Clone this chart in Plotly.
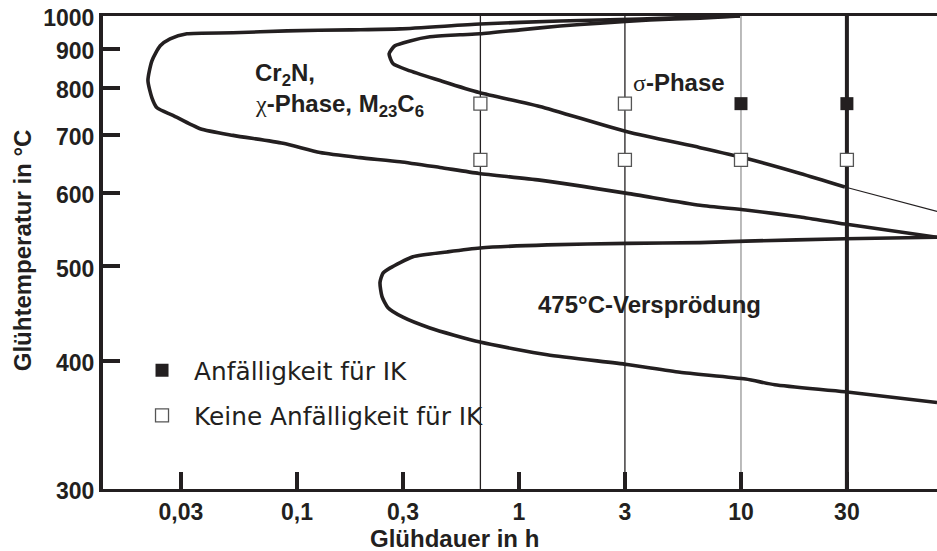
import math
import plotly.graph_objects as go

# ---------------- data ----------------
# Glühdauer in h / Glühtemperatur in °C
# Cr2N, chi-Phase, M23C6 : upper branch (right -> nose) then lower branch (nose -> right)
cr2n_t = [9.90, 6.54, 3.51, 1.53, 0.667, 0.291, 0.173, 0.0902, 0.0515, 0.0319,
          0.0268, 0.0242, 0.0222, 0.0213, 0.0222, 0.0234, 0.0276, 0.0366, 0.0515,
          0.0865, 0.127, 0.192, 0.291, 0.441, 0.661, 1.24, 3.07, 6.54, 10.5, 18.5,
          29.4, 76.4]
cr2n_T = [1000, 997, 990, 984, 974, 959, 956, 953, 947, 944,
          929, 909, 868, 818, 778, 756, 740, 713, 700,
          685, 668, 659, 652, 642, 632, 621, 600, 582, 575, 565,
          555, 537]

# sigma-Phase
sigma_t = [9.90, 6.54, 3.89, 2.32, 1.53, 1.01, 0.667, 0.542, 0.397, 0.323, 0.276,
           0.260, 0.271, 0.323, 0.441, 0.661, 1.24, 3.07, 6.54, 10.5, 18.5, 29.4]
sigma_T = [1000, 993, 987, 977, 968, 956, 944, 941, 935, 923, 909,
           887, 860, 842, 818, 790, 759, 707, 677, 658, 632, 610]
# thin extrapolation of the sigma curve beyond 30 h
sigma_ext_t = [29.4, 76.4]
sigma_ext_T = [610, 573]

# 475 °C-Versprödung
embr_t = [76.4, 29.4, 10.5, 6.54, 3.07, 1.34, 0.667, 0.474, 0.333, 0.262, 0.244,
          0.2365, 0.2415, 0.257, 0.300, 0.397, 0.667, 1.34, 3.07, 5.31, 10.5, 14.2,
          29.4, 76.4]
embr_T = [537, 535, 532, 530, 529, 527, 523, 518, 512, 498, 492,
          481, 465, 453, 443, 432, 418, 406, 397, 390, 384, 379,
          373, 364]

# test times (vertical lines) and results
test_times = [0.67, 3, 10, 30, 100]
anf_t = [10, 30, 100, 100]          # Anfälligkeit für IK
anf_T = [765, 765, 765, 655]
keine_t = [0.67, 0.67, 3, 3, 10, 30]  # Keine Anfälligkeit für IK
keine_T = [765, 655, 765, 655, 655, 655]

x_tick_vals = [0.03, 0.1, 0.3, 1, 3, 10, 30]
x_tick_text = ["0,03", "0,1", "0,3", "1", "3", "10", "30"]
y_tick_vals = [300, 400, 500, 600, 700, 800, 900, 1000]
y_tick_text = ["300", "400", "500", "600", "700", "800", "900", "1000"]


# ---------------- helpers ----------------
def T_axis(T):
    """temperature axis is scaled like 1/T (Kelvin)"""
    return -10000.0 / (T + 273.0)


def ty(vals):
    return [T_axis(v) for v in vals]


DARK = "#231f20"
FONT = "Liberation Sans"

fig = go.Figure()

curve_style = dict(color=DARK, width=3.6, shape="spline", smoothing=0.6)
fig.add_trace(go.Scatter(x=cr2n_t, y=ty(cr2n_T), mode="lines", line=curve_style,
                         showlegend=False, hoverinfo="skip"))
fig.add_trace(go.Scatter(x=sigma_t, y=ty(sigma_T), mode="lines", line=curve_style,
                         showlegend=False, hoverinfo="skip"))
fig.add_trace(go.Scatter(x=sigma_ext_t, y=ty(sigma_ext_T), mode="lines",
                         line=dict(color=DARK, width=1.2),
                         showlegend=False, hoverinfo="skip"))
fig.add_trace(go.Scatter(x=embr_t, y=ty(embr_T), mode="lines", line=curve_style,
                         showlegend=False, hoverinfo="skip"))

fig.add_trace(go.Scatter(x=anf_t, y=ty(anf_T), mode="markers",
                         name="Anfälligkeit für IK", legendgroup="a",
                         marker=dict(symbol="square", size=13, color=DARK,
                                     line=dict(width=0))))
fig.add_trace(go.Scatter(x=keine_t, y=ty(keine_T), mode="markers",
                         name="Keine Anfälligkeit für IK", legendgroup="b",
                         marker=dict(symbol="square", size=13, color="white",
                                     line=dict(width=1.3, color="#555555"))))

# vertical lines at the test times
line_w = {0.67: 1.3, 3: 1.3, 10: 1.0, 30: 4.0, 100: 1.3}
line_c = {0.67: DARK, 3: DARK, 10: "#777777", 30: DARK, 100: DARK}
for t in test_times:
    fig.add_shape(type="line", xref="x", yref="paper", x0=t, x1=t, y0=0, y1=1,
                  line=dict(color=line_c[t], width=line_w[t]), layer="below")

# labels inside the plot
lab_font = dict(family=FONT, size=24, color=DARK)
fig.add_annotation(x=math.log10(0.0635), y=T_axis(832), xref="x", yref="y",
                   text="<b>Cr<sub>2</sub>N,</b>", showarrow=False,
                   xanchor="left", yanchor="middle", font=lab_font)
fig.add_annotation(x=math.log10(0.0635), y=T_axis(762), xref="x", yref="y",
                   text="<span style='font-family:Liberation Serif'>χ</span>"
                        "<b>-Phase, M<sub>23</sub>C<sub>6</sub></b>",
                   showarrow=False, xanchor="left", yanchor="middle", font=lab_font)
fig.add_annotation(x=math.log10(3.18), y=T_axis(813), xref="x", yref="y",
                   text="<span style='font-family:Liberation Serif'>σ</span><b>-Phase</b>",
                   showarrow=False, xanchor="left", yanchor="middle", font=lab_font)
fig.add_annotation(x=math.log10(1.19), y=T_axis(456), xref="x", yref="y",
                   text="<b>475°C-Versprödung</b>",
                   showarrow=False, xanchor="left", yanchor="middle", font=lab_font)

# axis titles
title_font = dict(family=FONT, size=24, color=DARK)
fig.add_annotation(x=0.4209, y=-0.104, xref="paper", yref="paper",
                   text="<b>Glühdauer in h</b>", showarrow=False,
                   xanchor="center", yanchor="middle", font=title_font, borderpad=0)
fig.add_annotation(x=-0.097, y=0.505, xref="paper", yref="paper",
                   text="<b>Glühtemperatur in °C</b>", showarrow=False, textangle=-90,
                   xanchor="center", yanchor="middle", font=title_font)

fig.update_layout(
    width=937, height=551,
    margin=dict(l=103, r=0, t=16, b=62),
    paper_bgcolor="white", plot_bgcolor="white",
    font=dict(family=FONT, color=DARK),
    showlegend=True,
    legend=dict(x=0.0324, y=0.299, xanchor="left", yanchor="top",
                bgcolor="rgba(0,0,0,0)", borderwidth=0,
                tracegroupgap=10, itemwidth=54,
                font=dict(family="DejaVu Sans", size=24.8, color=DARK)),
)

fig.update_xaxes(
    type="log", range=[-1.874, 1.883], automargin=False, ticklabeloverflow="allow",
    tickvals=x_tick_vals, ticktext=x_tick_text,
    ticks="inside", ticklen=17, tickwidth=4, tickcolor=DARK,
    showline=True, linewidth=3, linecolor=DARK, mirror=True,
    showgrid=False, zeroline=False,
    tickfont=dict(family=FONT, size=23, color=DARK, weight="bold"),
)
fig.update_yaxes(
    range=[T_axis(300), T_axis(1000)], automargin=False, ticklabeloverflow="allow",
    ticklabelshift=2,
    tickvals=ty(y_tick_vals), ticktext=y_tick_text,
    ticks="inside", ticklen=17, tickwidth=4, tickcolor=DARK,
    showline=True, linewidth=4, linecolor=DARK, mirror=False,
    showgrid=False, zeroline=False,
    tickfont=dict(family=FONT, size=23, color=DARK, weight="bold"),
)

# let the 937x551 figure fill the window (no default page margin), no mode bar
fig.write_html("out.html",
               config={"displayModeBar": False},
               post_script="document.body.style.margin='0px';")
